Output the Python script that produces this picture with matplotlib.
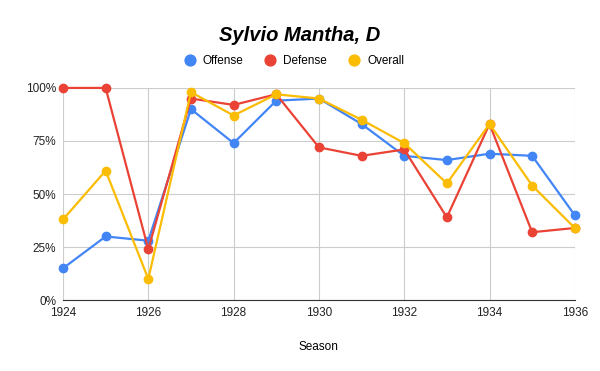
import matplotlib.pyplot as plt
from matplotlib.ticker import PercentFormatter

plt.rcParams['font.family'] = ['Liberation Sans', 'DejaVu Sans']

# data (percent)
seasons = [1924, 1925, 1926, 1927, 1928, 1929, 1930, 1931, 1932, 1933, 1934, 1935, 1936]
offense = [15, 30, 28, 90, 74, 94, 95, 83, 68, 66, 69, 68, 40]
defense = [100, 100, 24, 95, 92, 97, 72, 68, 71, 39, 83, 32, 34]
overall = [38, 61, 10, 98, 87, 97, 95, 85, 74, 55, 83, 54, 34]

fig = plt.figure(figsize=(6, 3.71), dpi=100)
ax = fig.add_axes([0.105, 0.191, 0.853, 0.572])

series = [("Offense", offense, "#4285F4"),
          ("Defense", defense, "#EA4335"),
          ("Overall", overall, "#FBBC04")]
for name, vals, col in series:
    ax.plot(seasons, vals, color=col, lw=1.6, marker="o", ms=6,
            label=name, clip_on=False, zorder=3)

ax.set_xlim(1924, 1936)
ax.set_ylim(0, 100)
ax.set_xticks(range(1924, 1937, 2))
ax.set_yticks([0, 25, 50, 75, 100])
ax.yaxis.set_major_formatter(PercentFormatter(decimals=0))
ax.grid(True, color="#cccccc", lw=0.8)
ax.set_axisbelow(True)
for s in ["top", "right", "left"]:
    ax.spines[s].set_visible(False)
ax.spines["bottom"].set_color("#333333")
ax.tick_params(length=0, labelsize=8.5, colors="#222222", pad=5)
ax.set_xlabel("Season", fontsize=8.5, labelpad=16)

fig.suptitle("Sylvio Mantha, D", fontsize=14.5, fontweight="bold",
             style="italic", y=0.93)
fig.legend(loc="center", bbox_to_anchor=(0.49, 0.835), ncol=3, frameon=False,
           fontsize=8.5, handlelength=1, handletextpad=0.6, columnspacing=1.8,
           markerscale=1.3)
leg = fig.legends[0]
for h in leg.legend_handles:
    h.set_linestyle("none")

fig.savefig("out.png", dpi=100)
